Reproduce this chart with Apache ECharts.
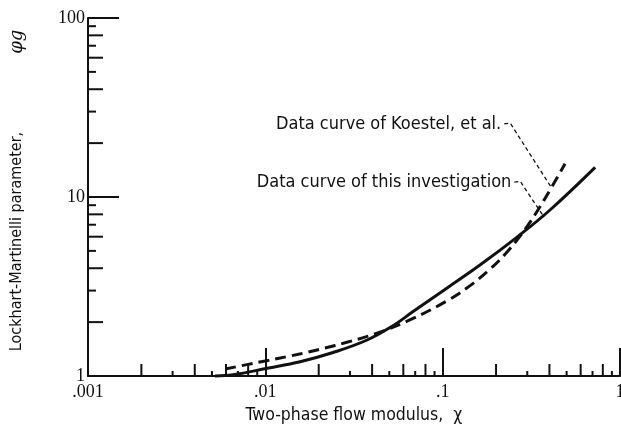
<!DOCTYPE html>
<html>
<head>
<meta charset="utf-8">
<script src="https://cdn.jsdelivr.net/npm/echarts@6/dist/echarts.min.js"></script>
<style>
  html, body { margin: 0; padding: 0; background: #fff; }
  #chart { width: 621px; height: 432px; }
</style>
</head>
<body>
<div id="chart"></div>
<script>
// Two-phase flow modulus (chi) versus Lockhart-Martinelli parameter (phi_g)
const chiThis = [0.0052, 0.00658, 0.01023, 0.0157, 0.0241, 0.0375, 0.0525, 0.0681, 0.106, 0.163, 0.266, 0.403, 0.724];
const phiThis = [1.0, 1.0155, 1.104, 1.202, 1.353, 1.589, 1.91, 2.29, 3.105, 4.18, 6.03, 8.46, 14.65];

const chiKoestel = [0.00593, 0.00799, 0.01035, 0.01378, 0.01718, 0.02172, 0.02815, 0.03795, 0.0473, 0.0681, 0.106, 0.1428, 0.185, 0.2249, 0.2733, 0.332, 0.414, 0.49];
const phiKoestel = [1.094, 1.161, 1.222, 1.293, 1.356, 1.434, 1.533, 1.671, 1.80, 2.096, 2.631, 3.199, 3.951, 4.79, 6.04, 7.98, 11.45, 15.35];

const xTickLabels = { '-3': '.001', '-2': '.01', '-1': '.1', '0': '1' };
const yTickLabels = { '0': '1', '1': '10', '2': '100' };

// Callout texts: label end point and the curve point the leader runs to
const calloutText = ['Data curve of Koestel, et al.', 'Data curve of this investigation'];
const calloutLabelAt = [[0.214, 25.6], [0.244, 12.1]];
const calloutTarget = [[0.41, 11.3], [0.373, 7.73]];

// Intermediate log-cycle ticks (2..9 in each decade)
const xMinor = [];
[0.001, 0.01, 0.1].forEach(d => { for (let k = 2; k <= 9; k++) xMinor.push([+(d * k).toPrecision(3), 1, k % 2 === 0 ? 1 : 0]); });
const yMinor = [];
[1, 10].forEach(d => { for (let k = 2; k <= 9; k++) yMinor.push([0.001, d * k, k % 2 === 0 ? 1 : 0]); });

const ink = '#111';
const labelFont = '"Liberation Serif", serif';
const textFont = '"DejaVu Sans Condensed", "Liberation Sans Narrow", sans-serif';

const chart = echarts.init(document.getElementById('chart'), null, { renderer: 'canvas' });

chart.setOption({
  animation: false,
  backgroundColor: '#fff',
  grid: { left: 88, right: 1, top: 18, bottom: 56, containLabel: false, outerBoundsMode: 'none' },
  xAxis: {
    type: 'log', logBase: 10, min: 0.001, max: 1,
    axisLine: { lineStyle: { color: ink, width: 2 } },
    axisTick: { inside: true, length: 28, lineStyle: { color: ink, width: 2 } },
    minorTick: { show: false },
    splitLine: { show: false },
    axisLabel: {
      color: ink, fontFamily: labelFont, fontSize: 18, margin: 7, hideOverlap: false,
      formatter: v => xTickLabels[String(Math.round(Math.log10(v)))] || ''
    },
    name: 'Two-phase flow modulus,  \u03c7',
    nameLocation: 'middle', nameGap: 30,
    nameTextStyle: { color: ink, fontFamily: textFont, fontSize: 17.5 }
  },
  yAxis: {
    type: 'log', logBase: 10, min: 1, max: 100,
    axisLine: { lineStyle: { color: ink, width: 2 } },
    axisTick: { inside: true, length: 31, lineStyle: { color: ink, width: 2 } },
    minorTick: { show: false },
    splitLine: { show: false },
    axisLabel: {
      color: ink, fontFamily: labelFont, fontSize: 18, margin: 3,
      formatter: v => yTickLabels[String(Math.round(Math.log10(v)))] || ''
    },
    name: '{main|Lockhart-Martinelli parameter,}{phi|\u03c6g}',
    nameLocation: 'middle', nameGap: 62,
    nameTextStyle: {
      color: ink, fontFamily: textFont, fontSize: 16,
      rich: {
        main: { fontFamily: textFont, fontSize: 16, color: ink, padding: [0, 0, 0, 13] },
        phi: { fontFamily: '"DejaVu Serif", serif', fontStyle: 'italic', fontSize: 18, color: ink, padding: [0, 0, 0, 78] }
      }
    }
  },
  series: [
    {
      name: 'minor-x', type: 'custom', silent: true, clip: false,
      data: xMinor,
      renderItem: (params, api) => {
        const p = api.coord([api.value(0), api.value(1)]);
        const len = api.value(2) ? 12 : 5;
        return { type: 'line', shape: { x1: p[0], y1: p[1], x2: p[0], y2: p[1] - len }, style: { stroke: ink, lineWidth: 2 } };
      }
    },
    {
      name: 'minor-y', type: 'custom', silent: true, clip: false,
      data: yMinor,
      renderItem: (params, api) => {
        const p = api.coord([api.value(0), api.value(1)]);
        const len = api.value(2) ? 15 : 8;
        return { type: 'line', shape: { x1: p[0], y1: p[1], x2: p[0] + len, y2: p[1] }, style: { stroke: ink, lineWidth: 2 } };
      }
    },
    {
      name: 'Data curve of this investigation', type: 'line',
      data: chiThis.map((x, i) => [x, phiThis[i]]),
      smooth: 0.4, showSymbol: false, clip: false,
      lineStyle: { color: ink, width: 3 }
    },
    {
      name: 'Data curve of Koestel, et al.', type: 'line',
      data: chiKoestel.map((x, i) => [x, phiKoestel[i]]),
      smooth: 0.4, showSymbol: false, clip: false,
      lineStyle: { color: ink, width: 3, type: [11, 6] }
    },
    {
      name: 'callouts', type: 'custom', silent: true, clip: false,
      data: calloutText.map((t, i) => [calloutLabelAt[i][0], calloutLabelAt[i][1], calloutTarget[i][0], calloutTarget[i][1], i]),
      renderItem: (params, api) => {
        const a = api.coord([api.value(0), api.value(1)]);
        const b = api.coord([api.value(2), api.value(3)]);
        const i = api.value(4);
        const hx = a[0] + 9;
        return {
          type: 'group',
          children: [
            {
              type: 'text',
              style: { x: a[0], y: a[1], text: calloutText[i], align: 'right', verticalAlign: 'middle',
                       fill: ink, font: '18px ' + textFont }
            },
            {
              type: 'polyline',
              shape: { points: [[a[0] + 3, a[1]], [hx, a[1] - 1], [hx + 3, a[1] + 4], [b[0], b[1]]] },
              style: { stroke: ink, lineWidth: 1.3, fill: null, lineDash: [4, 3] }
            }
          ]
        };
      }
    }
  ]
});
</script>
</body>
</html>
